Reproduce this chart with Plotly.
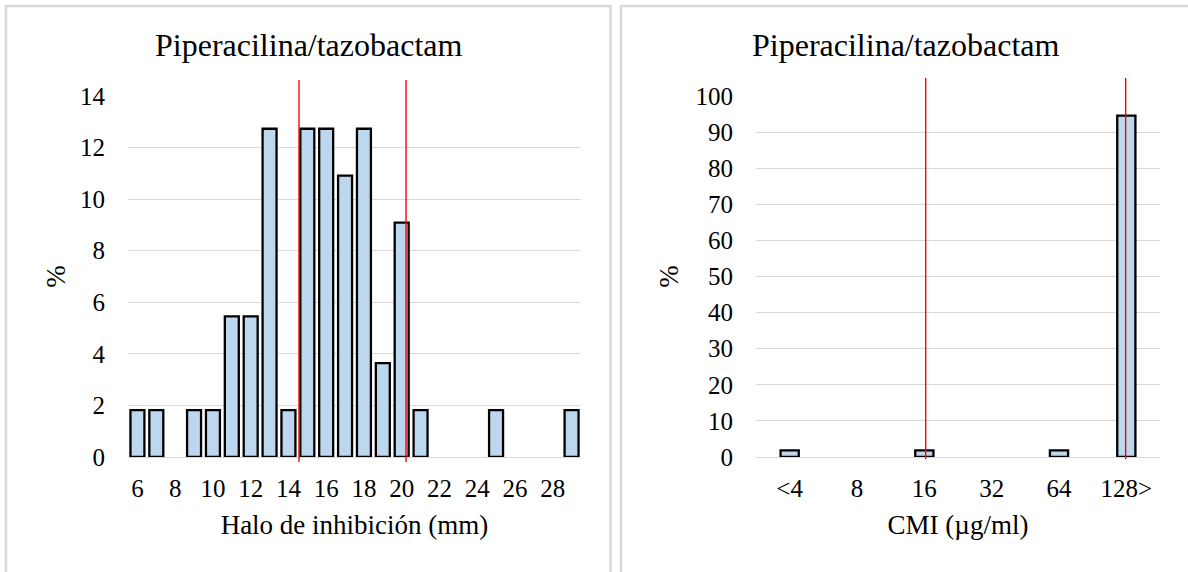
import plotly.graph_objects as go

# ---------------- data ----------------
halo_mm = list(range(6, 30))
halo_pct = [1.82, 1.82, 0, 1.82, 1.82, 5.45, 5.45, 12.73, 1.82, 12.73, 12.73, 10.91,
            12.73, 3.64, 9.09, 1.82, 0, 0, 0, 1.82, 0, 0, 0, 1.82]
halo_ticks = list(range(6, 29, 2))
halo_breaks = [14.56, 20.23]

cmi_labels = ["<4", "8", "16", "32", "64", "128>"]
cmi_pct = [1.82, 0, 1.82, 0, 1.82, 94.55]
cmi_breaks = [2.02, 4.99]  # positions on the category index scale

title_text = "Piperacilina/tazobactam"
xtitle_left = "Halo de inhibición (mm)"
xtitle_right = "CMI (µg/ml)"
ytitle = "%"

# ---------------- style ----------------
W, H = 1188, 572
FONT = "Liberation Serif, Times New Roman, serif"
TXT = "#000000"
GRID = "#d9d9d9"
FILL = "#BDD7EE"
RED = "#FF0000"

def px_x(p):
    return p / W

def px_y(p):
    return 1 - p / H

fig = go.Figure()

# left histogram
lx = [m for m, v in zip(halo_mm, halo_pct) if v > 0]
ly = [v for v in halo_pct if v > 0]
fig.add_trace(go.Bar(x=lx, y=ly, width=0.74, marker=dict(color=FILL, line=dict(color="#000000", width=2.3)),
                     xaxis="x", yaxis="y", showlegend=False))

# right histogram
ridx = list(range(len(cmi_labels)))
rx = [i for i, v in zip(ridx, cmi_pct) if v > 0]
ry = [v for v in cmi_pct if v > 0]
fig.add_trace(go.Bar(x=rx, y=ry, width=0.27, marker=dict(color=FILL, line=dict(color="#000000", width=2.3)),
                     xaxis="x2", yaxis="y2", showlegend=False))

ydom = [px_y(457), px_y(96)]
tickfont = dict(family=FONT, size=25, color=TXT)
titlefont = dict(family=FONT, size=27, color=TXT)

common_y = dict(showgrid=True, gridcolor=GRID, gridwidth=1, zeroline=True, zerolinecolor=GRID,
                zerolinewidth=1, showline=False, ticks="", tickfont=tickfont, ticklabelstandoff=22,
                domain=ydom, fixedrange=True, automargin=False)
common_x = dict(showgrid=False, zeroline=False, showline=False, ticks="", tickfont=tickfont,
                ticklabelstandoff=14, fixedrange=True, automargin=False)

fig.update_layout(
    template="none",
    width=W, height=H,
    margin=dict(l=0, r=0, t=0, b=0, pad=0, autoexpand=False),
    paper_bgcolor="white", plot_bgcolor="white",
    font=dict(family=FONT, color=TXT),
    bargap=0,
    showlegend=False,
    xaxis=dict(common_x, domain=[px_x(128), px_x(581)], range=[5.5, 29.5],
               tickmode="array", tickvals=halo_ticks, ticktext=[str(t) for t in halo_ticks],
               title=dict(text=xtitle_left, font=titlefont, standoff=14), anchor="y"),
    yaxis=dict(common_y, range=[0, 14], dtick=2, anchor="x",
               title=dict(text=ytitle, font=titlefont, standoff=6)),
    xaxis2=dict(common_x, domain=[px_x(756), px_x(1160)], range=[-0.5, 5.5],
                tickmode="array", tickvals=ridx, ticktext=cmi_labels,
                title=dict(text=xtitle_right, font=titlefont, standoff=14), anchor="y2"),
    yaxis2=dict(common_y, range=[0, 100], dtick=10, anchor="x2",
                title=dict(text=ytitle, font=titlefont, standoff=9)),
)

shapes = []
# chart frames
shapes.append(dict(type="rect", xref="paper", yref="paper", x0=px_x(6), x1=px_x(610.5),
                   y0=px_y(600), y1=px_y(6), line=dict(color=GRID, width=2.5), fillcolor="rgba(0,0,0,0)"))
shapes.append(dict(type="rect", xref="paper", yref="paper", x0=px_x(621), x1=px_x(1210),
                   y0=px_y(600), y1=px_y(6), line=dict(color=GRID, width=2.5), fillcolor="rgba(0,0,0,0)"))
# breakpoint lines
for b in halo_breaks:
    shapes.append(dict(type="line", xref="x", yref="y domain", x0=b, x1=b, y0=-0.014, y1=1.044,
                       line=dict(color=RED, width=1.4)))
for b in cmi_breaks:
    shapes.append(dict(type="line", xref="x2", yref="y2 domain", x0=b, x1=b, y0=-0.006, y1=1.05,
                       line=dict(color=RED, width=1.4)))
fig.update_layout(shapes=shapes)

fig.add_annotation(text=title_text, xref="paper", yref="paper", x=px_x(308.5), y=px_y(45),
                   xanchor="center", yanchor="middle", showarrow=False,
                   font=dict(family=FONT, size=32, color=TXT))
fig.add_annotation(text=title_text, xref="paper", yref="paper", x=px_x(906), y=px_y(45),
                   xanchor="center", yanchor="middle", showarrow=False,
                   font=dict(family=FONT, size=32, color=TXT))

fig.write_html("out.html", include_plotlyjs=True, config={"displayModeBar": False, "staticPlot": True},
               post_script="document.body.style.margin='0';document.body.style.overflow='hidden';")
